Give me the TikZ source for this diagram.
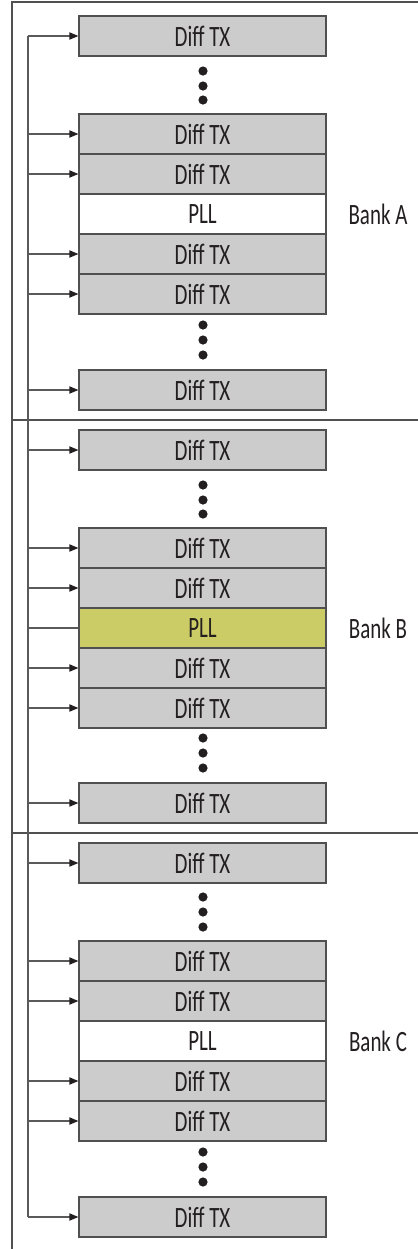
\documentclass[tikz,border=0pt]{standalone}
\usepackage{fontspec}
\setmainfont{Carlito}[FakeStretch=0.71]
\usetikzlibrary{arrows.meta}
\definecolor{txgray}{HTML}{CCCCCC}
\definecolor{pllyellow}{HTML}{CCCC66}
\definecolor{boxline}{HTML}{505050}
\definecolor{wire}{HTML}{5A5A5A}
\definecolor{ink}{HTML}{231F20}
\tikzset{
  txbox/.style={draw=boxline, fill=txgray, line width=0.6pt, minimum width=123.5pt,
    minimum height=20pt, inner sep=0pt, text=ink, font=\fontsize{14.75}{16}\selectfont},
  pllbox/.style={txbox, fill=white},
  banklabel/.style={text=ink, font=\fontsize{14.75}{16}\selectfont},
  feed/.style={draw=wire, line width=0.6pt, >={Triangle[length=4.5pt,width=3.6pt,color=ink]}},
  frame/.style={draw=boxline, line width=0.6pt}
}
\begin{document}
\begin{tikzpicture}[x=0.5pt,y=-0.5pt]
\useasboundingbox (0,0) rectangle (418,1249);

% frame and bank dividers
\draw[frame] (12,1249) -- (12,2) -- (418,2);
\draw[frame] (12,420) -- (418,420);
\draw[frame] (12,833) -- (418,833);
\coordinate (bus) at (28,0);

% Bank A
\node[txbox] (a1) at (202.5,36) {Diff TX};
\node[txbox] (a2) at (202.5,134) {Diff TX};
\node[txbox] (a3) at (202.5,174) {Diff TX};
\node[pllbox] (apll) at (202.5,214) {PLL};
\node[txbox] (a4) at (202.5,254) {Diff TX};
\node[txbox] (a5) at (202.5,294) {Diff TX};
\node[txbox] (a6) at (202.5,390) {Diff TX};
\node[banklabel] (bankA) at (378,214) {Bank A};

% Bank B
\node[txbox] (b1) at (202.5,450) {Diff TX};
\node[txbox] (b2) at (202.5,548) {Diff TX};
\node[txbox] (b3) at (202.5,588) {Diff TX};
\node[pllbox, fill=pllyellow] (bpll) at (202.5,628) {PLL};
\node[txbox] (b4) at (202.5,668) {Diff TX};
\node[txbox] (b5) at (202.5,708) {Diff TX};
\node[txbox] (b6) at (202.5,803) {Diff TX};
\node[banklabel] (bankB) at (378,628) {Bank B};

% Bank C
\node[txbox] (c1) at (202.5,863) {Diff TX};
\node[txbox] (c2) at (202.5,961) {Diff TX};
\node[txbox] (c3) at (202.5,1001) {Diff TX};
\node[pllbox] (cpll) at (202.5,1041) {PLL};
\node[txbox] (c4) at (202.5,1081) {Diff TX};
\node[txbox] (c5) at (202.5,1121) {Diff TX};
\node[txbox] (c6) at (202.5,1217) {Diff TX};
\node[banklabel] (bankC) at (378,1041) {Bank C};

% dots between the boxes
\foreach \y in {71,86,100,325,340,355,485,500,514,738,753,768,897,912,927,1152,1167,1182}
  \fill[ink] (203,\y) circle[radius=2.3pt];

% clock bus fed by the PLL of bank B
\draw[feed] (a1.west -| bus) -- (c6.west -| bus);
\draw[feed] (bpll.west -| bus) -- (bpll.west);
\foreach \n in {a1,a2,a3,a4,a5,a6,b1,b2,b3,b4,b5,b6,c1,c2,c3,c4,c5,c6}
  \draw[feed,->] (\n.west -| bus) -- (\n.west);
\end{tikzpicture}
\end{document}
